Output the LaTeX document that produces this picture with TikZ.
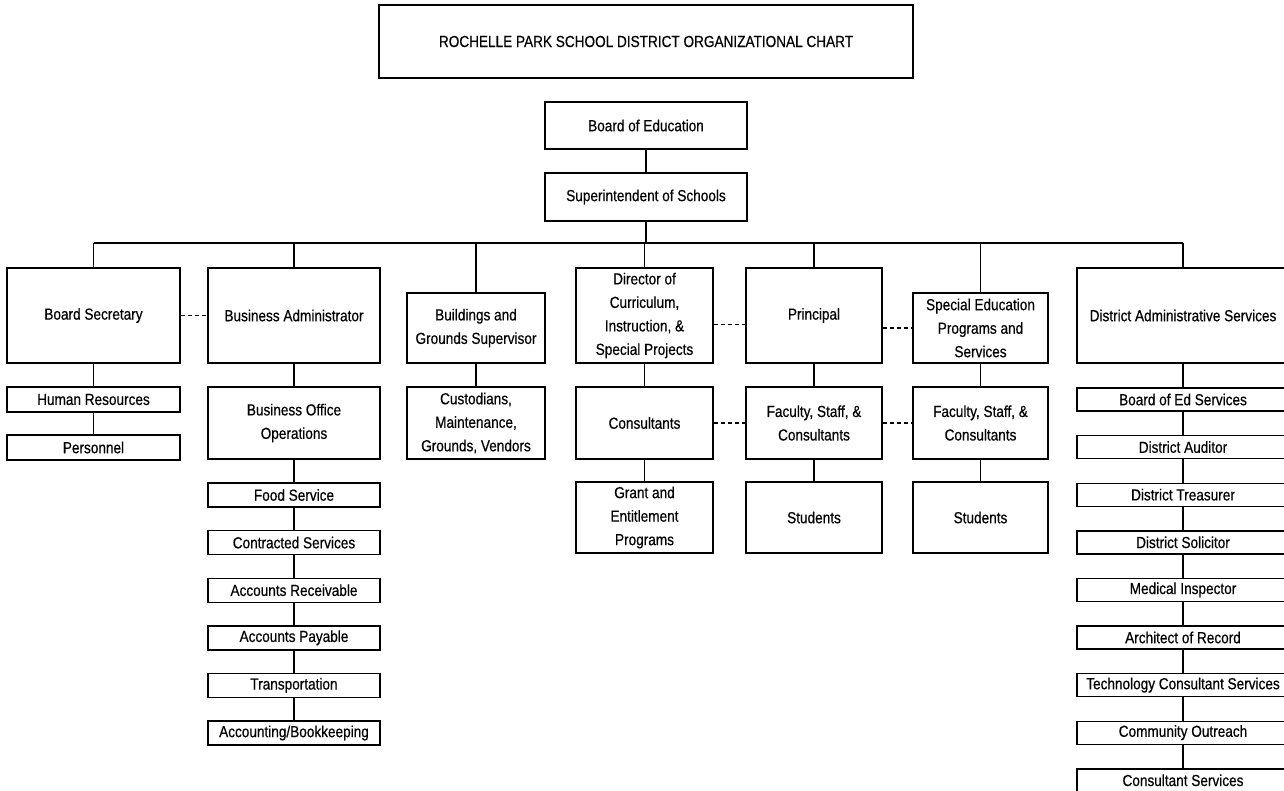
\documentclass[tikz,border=0pt]{standalone}
\usepackage{fontspec}
\setmainfont{Liberation Sans}[FakeStretch=0.85, UprightFeatures={FakeBold=0.5}]
\usepackage{tikz}
\usetikzlibrary{positioning,calc}

\tikzset{
  unit/.style={draw, line width=1.4pt, inner sep=1pt, align=center,
    font=\fontsize{16}{23.5}\selectfont},
  wh/.style 2 args={minimum width=#1pt, minimum height=#2pt},
  link/.style={line width=1.2pt},
  dotlink/.style={line width=1.2pt, dash pattern=on 4pt off 3pt}
}

\begin{document}
\begin{tikzpicture}[x=1pt, y=-1pt]
    \useasboundingbox (0,0) rectangle (1284,791);
    \clip (0,0) rectangle (1284,791);

    % Top of chart
    \node[unit, wh={534}{73}] (title) at (646,41.5) {ROCHELLE PARK SCHOOL DISTRICT ORGANIZATIONAL CHART};
    \node[unit, wh={202}{47}] (boe) at (646,125.5) {Board of Education};
    \node[unit, wh={202}{48}] (supt) at (646,197) {Superintendent of Schools};
    \draw[link] (boe) -- (supt);

    % First row
    \node[unit, wh={173}{95}] (bsec) at (93.5,315.5) {Board Secretary};
    \node[unit, wh={172}{95}] (badm) at (294,315.5) {Business Administrator};
    \node[unit, wh={138}{70}] (bgs) at (476,328) {Buildings and\\Grounds Supervisor};
    \node[unit, wh={137}{95}] (dir) at (644.5,315.5) {Director of\\Curriculum,\\Instruction, \&\\Special Projects};
    \node[unit, wh={136}{95}] (prin) at (814,315.5) {Principal};
    \node[unit, wh={135}{70}] (sped) at (980.5,328) {Special Education\\Programs and\\Services};
    \node[unit, wh={212}{95}] (dadm) at (1183,315.5) {District Administrative Services};

    % Bus line
    \coordinate (bus) at (0,243);
    \draw[link] (supt) -- (supt.south |- bus);
    \draw[link] (bsec.north |- bus) -- (dadm.north |- bus);
    \foreach \n in {bsec,badm,bgs,dir,prin,sped,dadm}
        \draw[link] (\n.north |- bus) -- (\n.north);

    % Second row
    \node[unit, wh={173}{25}] (hr) at (93.5,399.5) {Human Resources};
    \node[unit, wh={173}{25}] (pers) at (93.5,447.5) {Personnel};
    \node[unit, wh={172}{72}] (boo) at (294,423) {Business Office\\Operations};
    \node[unit, wh={138}{72}] (cust) at (476,423) {Custodians,\\Maintenance,\\Grounds, Vendors};
    \node[unit, wh={137}{72}] (cons) at (644.5,423) {Consultants};
    \node[unit, wh={136}{72}] (facp) at (814,423) {Faculty, Staff, \&\\Consultants};
    \node[unit, wh={135}{72}] (facs) at (980.5,423) {Faculty, Staff, \&\\Consultants};

    % Third row
    \node[unit, wh={137}{71}] (grant) at (644.5,517.5) {Grant and\\Entitlement\\Programs};
    \node[unit, wh={136}{71}] (studp) at (814,517.5) {Students};
    \node[unit, wh={135}{71}] (studs) at (980.5,517.5) {Students};

    % Business office list
    \foreach \lbl [count=\k from 0] in {Food Service, Contracted Services, Accounts Receivable,
        Accounts Payable, Transportation, Accounting/Bookkeeping}
        \node[unit, wh={172}{24}] (bo\k) at (294,{495+47.6*\k}) {\lbl};

    % District services list
    \foreach \lbl [count=\k from 0] in {Board of Ed Services, District Auditor, District Treasurer,
        District Solicitor, Medical Inspector, Architect of Record,
        Technology Consultant Services, Community Outreach, Consultant Services}
        \node[unit, wh={212}{23}] (ds\k) at (1183,{399.5+47.6*\k}) {\lbl};

    % Vertical links
    \draw[link] (bsec) -- (hr);
    \draw[link] (hr) -- (pers);
    \draw[link] (badm) -- (boo);
    \draw[link] (boo) -- (bo0);
    \foreach \k [remember=\k as \p (initially 0)] in {1,...,5}
        \draw[link] (bo\p) -- (bo\k);
    \draw[link] (bgs) -- (cust);
    \draw[link] (dir) -- (cons);
    \draw[link] (cons) -- (grant);
    \draw[link] (prin) -- (facp);
    \draw[link] (facp) -- (studp);
    \draw[link] (sped) -- (facs);
    \draw[link] (facs) -- (studs);
    \draw[link] (dadm) -- (ds0);
    \foreach \k [remember=\k as \p (initially 0)] in {1,...,8}
        \draw[link] (ds\p) -- (ds\k);

    % Dashed links
    \draw[dotlink] (bsec) -- (badm);
    \draw[dotlink] ([yshift=-9pt]dir.east) -- ([yshift=-9pt]prin.west);
    \draw[dotlink] (sped.west -| prin.east) -- (sped.west);
    \draw[dotlink] (cons) -- (facp);
    \draw[dotlink] (facp) -- (facs);
\end{tikzpicture}
\end{document}
